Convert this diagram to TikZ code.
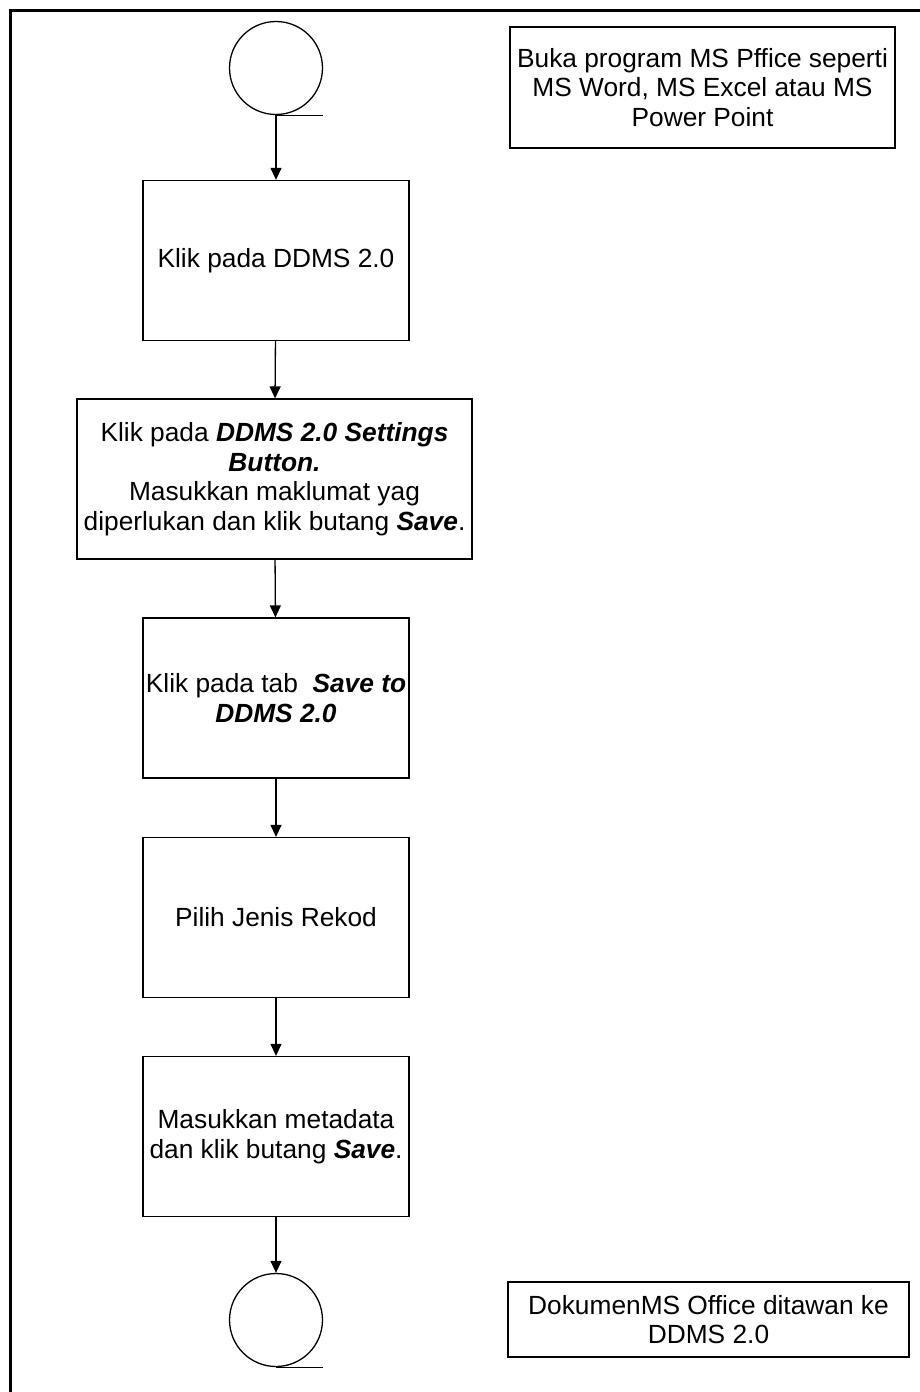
\documentclass[tikz,border=0pt]{standalone}
\usepackage{fontspec}
\setmainfont{Liberation Sans}
\usetikzlibrary{positioning,arrows.meta}
\tikzset{
  stepbox/.style={draw, line width=1.3pt, align=center, minimum width=266pt,
    minimum height=160pt, inner sep=2pt, font=\fontsize{26.3}{29.5}\selectfont},
  notebox/.style={draw, line width=1.3pt, align=center, inner sep=2pt,
    font=\fontsize{26.3}{29.5}\selectfont},
  termcircle/.style={draw, circle, line width=1.3pt, minimum size=93pt, inner sep=0pt},
  flowarrow/.style={-{Triangle[length=12pt,width=11pt]}, line width=1.3pt},
}
\newcommand{\bi}[1]{\textbf{\textit{#1}}}

\begin{document}
\begin{tikzpicture}[x=1pt,y=-1pt]
  \useasboundingbox (0,0) rectangle (920,1392);
  \clip (0,0) rectangle (920,1392);
  % bingkai luar
  \draw[line width=3pt] (10,1420) -- (10,10) -- (940,10);
  % aliran utama
  \node[termcircle] (mula) at (276,68) {};
  \draw[line width=1.3pt] (mula.south) -- ++(47,0);
  \node[stepbox] (ddms) at (276,260.5) {Klik pada DDMS 2.0};
  \node[stepbox, minimum width=395pt] (tetapan) at (274.5,479) {Klik pada \bi{DDMS 2.0 Settings}\\\bi{Button.}\\Masukkan maklumat yag\\diperlukan dan klik butang \bi{Save}.};
  \node[stepbox] (simpan) at (276,698) {Klik pada tab \ \bi{Save to}\\\bi{DDMS 2.0}};
  \node[stepbox] (jenis) at (276,917.5) {Pilih Jenis Rekod};
  \node[stepbox] (metadata) at (276,1136.5) {Masukkan metadata\\dan klik butang \bi{Save}.};
  \node[termcircle] (tamat) at (276,1320) {};
  \draw[line width=1.3pt] (tamat.south) -- ++(47,0);
  \foreach \a/\b in {mula/ddms, ddms/tetapan, tetapan/simpan, simpan/jenis, jenis/metadata, metadata/tamat}
    \draw[flowarrow] (\a) -- (\b);
  % catatan
  \node[notebox, minimum width=385pt, minimum height=121pt] (buka) at (702.5,87.5) {Buka program MS Pffice seperti\\MS Word, MS Excel atau MS\\Power Point};
  \node[notebox, minimum width=401pt, minimum height=75pt] (hasil) at (708.5,1319.5) {DokumenMS Office ditawan ke\\DDMS 2.0};
\end{tikzpicture}
\end{document}
